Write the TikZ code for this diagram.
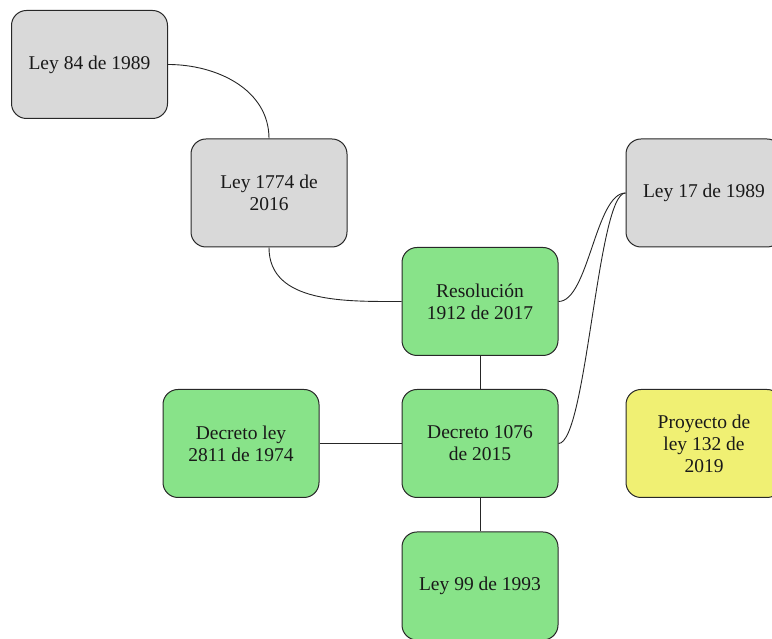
\documentclass[tikz,border=0pt]{standalone}
\usepackage{fontspec}
\setmainfont{Liberation Serif}
\definecolor{grayfill}{RGB}{217,217,217}
\definecolor{greenfill}{RGB}{136,227,137}
\definecolor{yellowfill}{RGB}{240,240,115}
\definecolor{boxline}{RGB}{40,40,40}
\tikzset{
  box/.style={draw=boxline, line width=1pt, rounded corners=15pt,
    minimum width=156pt, minimum height=108pt, inner sep=2pt,
    align=center, font=\fontsize{19.5}{22}\selectfont, text=black!90},
  graybox/.style={box, fill=grayfill},
  greenbox/.style={box, fill=greenfill},
  yellowbox/.style={box, fill=yellowfill},
  link/.style={draw=black!85, line width=0.9pt}
}
\begin{document}
\begin{tikzpicture}[x=1pt,y=1pt]
\useasboundingbox (0,0) rectangle (772,639);
\clip (0,0) rectangle (772,639);
\node[graybox] (l84) at (89.5,574.5) {Ley 84 de 1989};
\node[graybox] (l1774) at (269,446) {Ley 1774 de\\2016};
\node[graybox] (l17) at (704,446) {Ley 17 de 1989};
\node[greenbox] (res) at (480,337.5) {Resolución\\1912 de 2017};
\node[greenbox] (dec) at (480,195.5) {Decreto 1076\\de 2015};
\node[greenbox] (dl) at (241,195.5) {Decreto ley\\2811 de 1974};
\node[greenbox] (l99) at (480,53) {Ley 99 de 1993};
\node[yellowbox] (proy) at (704,195.5) {Proyecto de\\ley 132 de\\2019};
\draw[link] (l84.east) to[out=0,in=90] (l1774.north);
\draw[link] (l1774.south) to[out=-90,in=180] (res.west);
\draw[link] (res.east) .. controls +(30,0) and +(-30,0) .. (l17.west);
\draw[link] (dec.east) .. controls +(28,0) and +(-28,0) .. (l17.west);
\draw[link] (res.south) -- (dec.north);
\draw[link] (dl.east) -- (dec.west);
\draw[link] (dec.south) -- (l99.north);
\end{tikzpicture}
\end{document}
